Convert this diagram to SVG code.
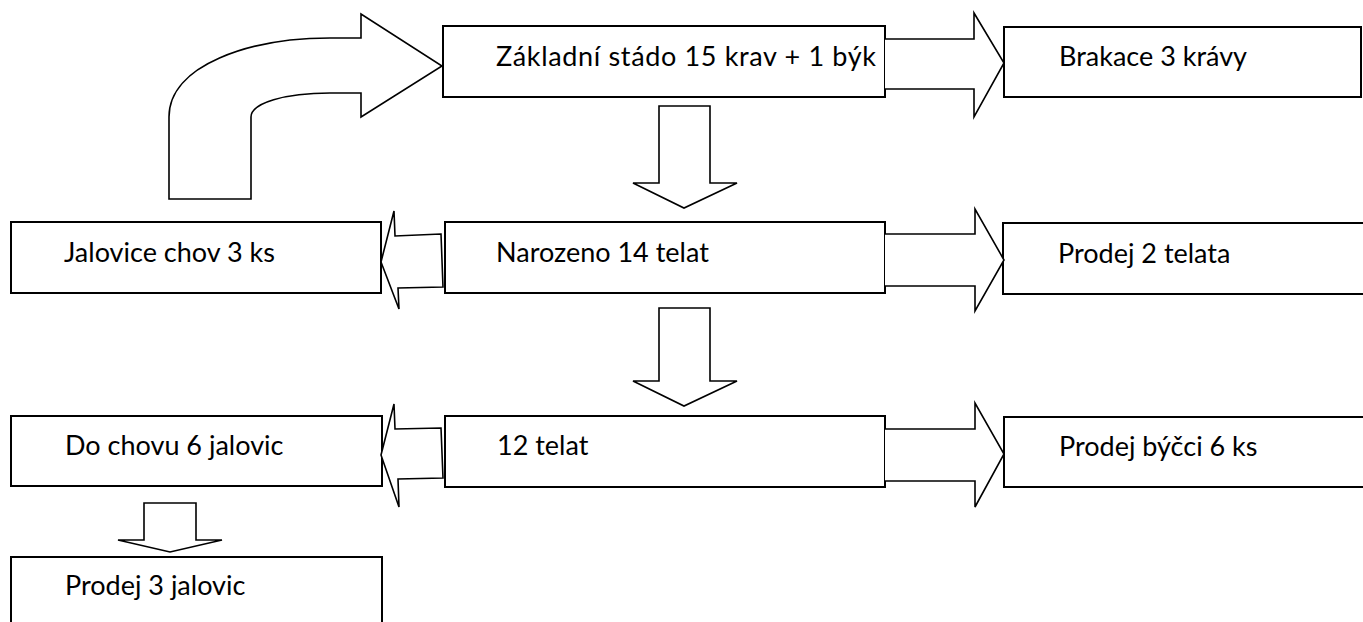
<svg xmlns="http://www.w3.org/2000/svg" width="1363" height="622" viewBox="0 0 1363 622">
<style>
.box{fill:#fff;stroke:#000;stroke-width:2}
.arr{fill:#fff;stroke:#000;stroke-width:1.6;stroke-linejoin:miter}
text{font-family:"Lato","Open Sans","Liberation Sans",sans-serif;font-size:27px;fill:#000}
</style>
<rect width="1363" height="622" fill="#fff"/>
<g id="n-zakladni"><rect class="box" x="443" y="26" width="442" height="71"/><text x="496" y="66" textLength="380" lengthAdjust="spacing">Základní stádo 15 krav + 1 býk</text></g>
<g id="n-brakace"><rect class="box" x="1004" y="27" width="357" height="70"/><text x="1059" y="66">Brakace 3 krávy</text></g>
<g id="n-jalovice"><rect class="box" x="11" y="222" width="370" height="71"/><text x="64" y="262">Jalovice chov 3 ks</text></g>
<g id="n-narozeno"><rect class="box" x="445" y="222" width="440" height="71"/><text x="496" y="262">Narozeno 14 telat</text></g>
<g id="n-prodej2"><rect class="box" x="1003" y="223" width="370" height="71"/><text x="1058" y="263">Prodej 2 telata</text></g>
<g id="n-dochovu"><rect class="box" x="11" y="416" width="371" height="70"/><text x="65" y="455">Do chovu 6 jalovic</text></g>
<g id="n-12telat"><rect class="box" x="445" y="416" width="440" height="71"/><text x="497" y="455">12 telat</text></g>
<g id="n-byk"><rect class="box" x="1004" y="417" width="370" height="70"/><text x="1059" y="456">Prodej býčci 6 ks</text></g>
<g id="n-prodej3"><rect class="box" x="11" y="557" width="371" height="80"/><text x="65" y="595">Prodej 3 jalovic</text></g>
<g id="connectors">
<path class="arr" d="M169,199 L169,117 C169,65 250,38 330,38 L361,38 L361,14 L442,66 L361,117 L361,93 L330,93 C285,93 251,103 251,117 L251,199 Z"/>
<path class="arr" d="M885,39 L974,39 L974,13 L1004,63 L974,117 L974,89 L885,89"/>
<path class="arr" d="M659,106 L710,106 L710,183 L737,183 L684,208 L633,183 L659,183 Z"/>
<path class="arr" d="M441,234 L395,236 L394,211 L381,262 L399,309 L398,288 L443,287 Z"/>
<path class="arr" d="M885,234 L975,234 L975,209 L1004,260 L975,311 L975,286 L885,286"/>
<path class="arr" d="M659,308 L710,308 L710,381 L737,381 L684,406 L633,381 L659,381 Z"/>
<path class="arr" d="M441,428 L395,429 L394,404 L381,455 L399,507 L398,479 L443,478 Z"/>
<path class="arr" d="M885,429 L975,429 L975,403 L1004,454 L975,507 L975,481 L885,481"/>
<path class="arr" d="M144,503 L196,503 L196,540 L222,540 L170,552 L118,540 L144,540 Z"/>
</g>
</svg>
